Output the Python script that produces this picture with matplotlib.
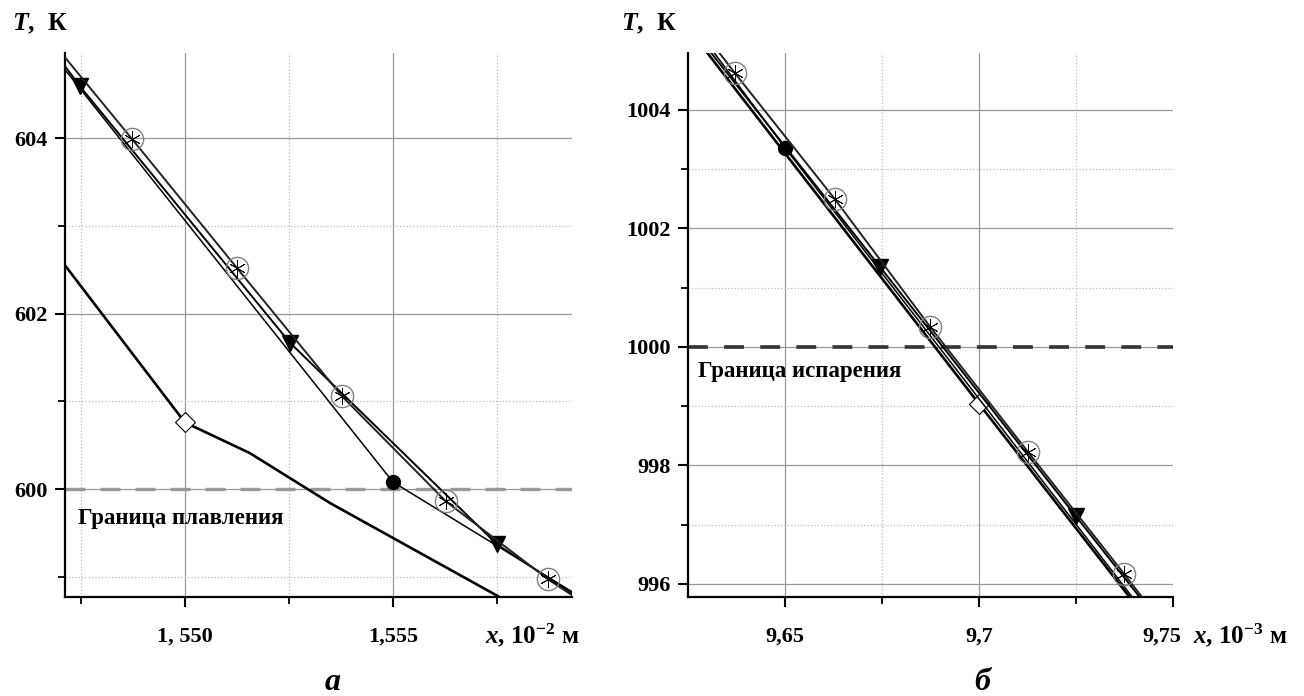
import matplotlib
matplotlib.use("Agg")
import matplotlib.pyplot as plt
import matplotlib.transforms as mtransforms
from matplotlib.ticker import FixedLocator, FixedFormatter

plt.rcParams['font.family'] = ['Liberation Serif', 'DejaVu Serif']
plt.rcParams['font.weight'] = 'bold'
plt.rcParams['mathtext.fontset'] = 'custom'
plt.rcParams['mathtext.rm'] = 'Liberation Serif:bold'
plt.rcParams['mathtext.bf'] = 'Liberation Serif:bold'
plt.rcParams['mathtext.it'] = 'Liberation Serif:italic:bold'

# ---- панель а: граница плавления ----
xa_circ = [1.54712, 1.54873, 1.55125, 1.55377, 1.55627, 1.55873, 1.5593]
Ta_circ = [604.92, 603.99, 602.52, 601.06, 599.86, 598.97, 598.79]
xa_tri = [1.54712, 1.54748, 1.55252, 1.5575, 1.5593]
Ta_tri = [604.82, 604.59, 601.67, 599.37, 598.81]
xa_dot = [1.54712, 1.555, 1.5593]
Ta_dot = [604.78, 600.08, 598.83]
xa_dia = [1.54712, 1.550, 1.55156, 1.55349, 1.55752]
Ta_dia = [602.55, 600.76, 600.41, 599.84, 598.78]
Ta_melt = 600

xa_major = [1.550, 1.555]
xa_major_lbl = ["1, 550", "1,555"]
xa_minor = [1.5475, 1.5525, 1.5575]
ya_major = [600, 602, 604]
ya_minor = [599, 601, 603]

# ---- панель б: граница испарения ----
xb_circ = [9.6331, 9.6371, 9.6629, 9.6874, 9.7126, 9.7374, 9.7420]
Tb_circ = [1004.96, 1004.62, 1002.49, 1000.34, 998.23, 996.17, 995.78]
xb_tri = [9.6310, 9.6745, 9.725, 9.7414]
Tb_tri = [1004.96, 1001.35, 997.14, 995.78]
xb_dot = [9.6318, 9.65, 9.7395]
Tb_dot = [1004.96, 1003.36, 995.78]
xb_dia = [9.6300, 9.70, 9.7388]
Tb_dia = [1004.96, 999.04, 995.78]
Tb_vap = 1000

xb_major = [9.65, 9.70, 9.75]
xb_major_lbl = ["9,65", "9,7", "9,75"]
xb_minor = [9.675, 9.725]
yb_major = [996, 998, 1000, 1002, 1004]
yb_minor = [997, 999, 1001, 1003]

W, H = 1304, 696
fig = plt.figure(figsize=(W / 100, H / 100), dpi=100)
ax_a = fig.add_axes([65 / W, 1 - 597 / H, 507 / W, 544 / H])
ax_b = fig.add_axes([688 / W, 1 - 597 / H, 485 / W, 544 / H])


def style_axes(ax, xmaj, xlbl, xmin, ymaj, ymin):
    ax.xaxis.set_major_locator(FixedLocator(xmaj))
    ax.xaxis.set_major_formatter(FixedFormatter(xlbl))
    ax.xaxis.set_minor_locator(FixedLocator(xmin))
    ax.yaxis.set_major_locator(FixedLocator(ymaj))
    ax.yaxis.set_minor_locator(FixedLocator(ymin))
    for s in ['top', 'right']:
        ax.spines[s].set_visible(False)
    for s in ['left', 'bottom']:
        ax.spines[s].set_linewidth(1.6)
    ax.grid(True, which='major', color='#999999', linewidth=0.9, linestyle='-')
    ax.grid(True, which='minor', color='#bbbbbb', linewidth=0.9, linestyle=':')
    ax.set_axisbelow(True)
    ax.tick_params(axis='both', which='major', direction='out', length=7.5, width=1.5, labelsize=16)
    ax.tick_params(axis='both', which='minor', direction='out', length=5, width=1.3)
    ax.tick_params(axis='x', which='major', pad=14)
    ax.tick_params(axis='y', which='major', pad=5, labelsize=16)


def draw_series(ax, xc, yc, xt, yt, xd, yd, xdi, ydi):
    n = len(xc)
    ax.plot(xdi, ydi, color='black', lw=1.9, marker='D', markevery=[1],
            ms=10, mfc='white', mec='black', mew=0.8, zorder=3)
    ax.plot(xd, yd, color='black', lw=1.1, marker='o', markevery=[1], ms=10, mfc='black', zorder=4)
    ax.plot(xt, yt, color='black', lw=1.4, marker='v', markevery=list(range(1, len(xt) - 1)),
            ms=11, mfc='black', mec='black', zorder=4)
    ax.plot(xc, yc, color='#222222', lw=1.4, marker='o', markevery=list(range(1, n - 1)),
            ms=16, mfc='none', mec='#808080', mew=1.0, zorder=5)
    ax.plot(xc[1:n - 1], yc[1:n - 1], ls='none', marker=(6, 2, 0), ms=12, mec='black', mew=0.6, zorder=6)


# панель а
style_axes(ax_a, xa_major, xa_major_lbl, xa_minor, ya_major, ya_minor)
ax_a.axhline(Ta_melt, color='#999999', lw=2.4, dashes=(6, 4.5), zorder=2)
draw_series(ax_a, xa_circ, Ta_circ, xa_tri, Ta_tri, xa_dot, Ta_dot, xa_dia, Ta_dia)
ax_a.set_xlim(1.54712, 1.5593)
ax_a.set_ylim(598.77, 604.97)
ax_a.text(1.54743, 599.66, "Граница плавления", fontsize=16.5, fontweight='bold', va='center', ha='left')

# панель б
style_axes(ax_b, xb_major, xb_major_lbl, xb_minor, yb_major, yb_minor)
ax_b.get_xaxis().get_major_ticks()[-1].gridline.set_visible(False)
ax_b.axhline(Tb_vap, color='#333333', lw=2.6, dashes=(5.5, 4.5), zorder=2)
draw_series(ax_b, xb_circ, Tb_circ, xb_tri, Tb_tri, xb_dot, Tb_dot, xb_dia, Tb_dia)
ax_b.set_xlim(9.625, 9.75)
ax_b.set_ylim(995.78, 1004.96)
ax_b.text(9.6276, 999.59, "Граница испарения", fontsize=16.5, fontweight='bold', va='center', ha='left')

# сдвигаем подпись 9,75 влево, чтобы не наезжала на подпись оси
last_tick = ax_b.get_xaxis().get_major_ticks()[-1]
last_tick.label1.set_transform(last_tick.label1.get_transform() +
                               mtransforms.ScaledTranslation(-0.11, 0, fig.dpi_scale_trans))

# подписи осей
for xl in [12, 621]:
    fig.text(xl / W, 1 - 24 / H, r"$\mathit{T}$,  К", fontsize=18.5, va='center', ha='left')
fig.text(485 / W, 1 - 635 / H, r"$\mathit{x}$, $\mathrm{10^{-2}}$ м", fontsize=18, va='center', ha='left')
fig.text(1193 / W, 1 - 635 / H, r"$\mathit{x}$, $\mathrm{10^{-3}}$ м", fontsize=18, va='center', ha='left')
fig.text(333 / W, 1 - 690 / H, "а", fontsize=23, fontstyle='italic', fontweight='bold', va='baseline', ha='center')
fig.text(982 / W, 1 - 690 / H, "б", fontsize=23, fontstyle='italic', fontweight='bold', va='baseline', ha='center')

plt.savefig("out.png", dpi=100)
plt.close()
